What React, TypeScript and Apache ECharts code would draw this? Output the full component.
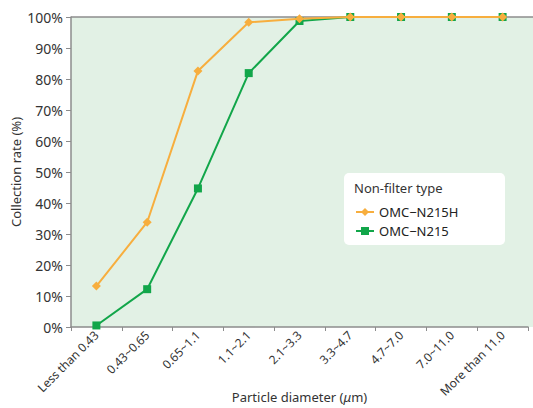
import React, { useEffect, useRef } from "react";
import * as echarts from "echarts";

const categories = [
  "Less than 0.43",
  "0.43~0.65",
  "0.65~1.1",
  "1.1~2.1",
  "2.1~3.3",
  "3.3~4.7",
  "4.7~7.0",
  "7.0~11.0",
  "More than 11.0",
];
const n215h = [13.2, 33.8, 82.6, 98.3, 99.4, 100, 100, 100, 100];
const n215 = [0.5, 12.2, 44.7, 81.9, 98.7, 100, 100, 100, 100];
const yTicks = [0, 10, 20, 30, 40, 50, 60, 70, 80, 90, 100];

const FONT = "'Noto Sans', 'Open Sans', sans-serif";

export default function App() {
  const ref = useRef<HTMLDivElement>(null);
  useEffect(() => {
    const chart = echarts.init(ref.current!, undefined, { renderer: "svg" });
    chart.setOption({
      animation: false,
      textStyle: { fontFamily: FONT },
      graphic: [
        {
          type: "rect",
          z: -10,
          shape: { x: 71, y: 17, width: 462, height: 310 },
          style: { fill: "#e2f1e5" },
          silent: true,
        },
        {
          type: "line",
          z: 1,
          shape: { x1: 71, y1: 17, x2: 533, y2: 17 },
          style: { stroke: "#8c8c8c", lineWidth: 1.5 },
        },
        {
          type: "rect",
          z: 5,
          shape: { x: 344, y: 173, width: 161, height: 72, r: 5 },
          style: { fill: "#ffffff" },
        },
        {
          type: "text",
          z: 6,
          x: 354,
          y: 188,
          style: {
            text: "Non-filter type",
            fontSize: 13,
            fontFamily: FONT,
            fill: "#333",
            verticalAlign: "middle",
          },
        },
      ],
      grid: { left: 71, right: 5, top: 17, bottom: 81, outerBoundsMode: "none", containLabel: false },
      legend: {
        orient: "vertical",
        left: 355,
        top: 204,
        padding: 0,
        itemGap: 3,
        itemWidth: 18,
        itemHeight: 10,
        z: 7,
        textStyle: { fontSize: 13, lineHeight: 16, color: "#222", fontFamily: FONT },
        data: ["OMC−N215H", "OMC−N215"],
      },
      xAxis: {
        type: "category",
        data: categories,
        boundaryGap: true,
        name: "Particle diameter ({i|μ}m)",
        nameLocation: "middle",
        nameGap: 63,
        nameMoveOverlap: false,
        nameTextStyle: {
          fontSize: 13,
          color: "#333",
          fontFamily: FONT,
          rich: { i: { fontSize: 13, fontStyle: "italic", color: "#333", fontFamily: FONT } },
        },
        axisLine: { lineStyle: { color: "#8c8c8c", width: 1.5 } },
        axisTick: { show: true, length: 4, lineStyle: { color: "#8c8c8c" } },
        axisLabel: {
          rotate: 45,
          fontSize: 12,
          color: "#333",
          margin: 6,
          interval: 0,
          fontFamily: FONT,
        },
      },
      yAxis: {
        type: "value",
        min: 0,
        max: 100,
        interval: 10,
        name: "Collection rate (%)",
        nameLocation: "middle",
        nameGap: 49,
        nameMoveOverlap: false,
        nameTextStyle: { fontSize: 13, color: "#333", fontFamily: FONT },
        axisLine: { show: true, lineStyle: { color: "#8c8c8c", width: 1.5 } },
        axisTick: { show: true, length: 5, lineStyle: { color: "#8c8c8c" } },
        splitLine: { show: false },
        axisLabel: {
          fontSize: 14,
          color: "#333",
          margin: 8,
          fontFamily: FONT,
          formatter: (v: number) => (yTicks.includes(v) ? v + "%" : ""),
        },
      },
      series: [
        {
          name: "OMC−N215",
          type: "line",
          data: n215,
          symbol: "rect",
          symbolSize: 8,
          z: 2,
          lineStyle: { color: "#12a64a", width: 2 },
          itemStyle: { color: "#12a64a" },
        },
        {
          name: "OMC−N215H",
          type: "line",
          data: n215h,
          symbol: "diamond",
          symbolSize: 9,
          z: 3,
          lineStyle: { color: "#f7ae3e", width: 2 },
          itemStyle: { color: "#f7ae3e" },
        },
      ],
    });
    return () => chart.dispose();
  }, []);
  return (
    <div
      ref={ref}
      style={{ width: 533, height: 408, position: "absolute", left: 0, top: 0 }}
    />
  );
}
